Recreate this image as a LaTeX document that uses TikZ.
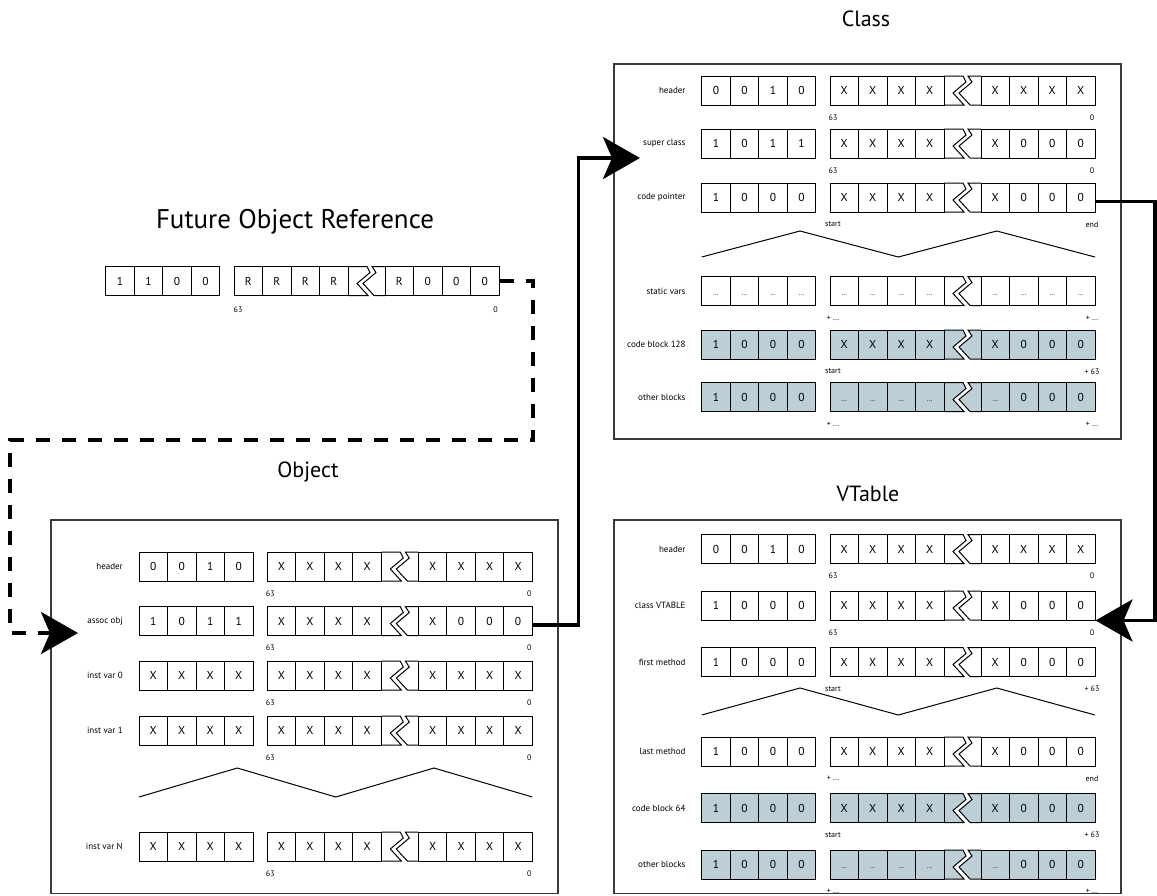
\documentclass[tikz,border=0pt]{standalone}
\usepackage{fontspec}
\setmainfont{PT Sans}
\usetikzlibrary{arrows.meta,calc}
\definecolor{blockfill}{HTML}{BDCFD6}
\definecolor{framegray}{HTML}{3A3A3A}
\newcommand\dd{{\fontsize{7}{7}\selectfont...}}

\tikzset{
  cellline/.style={draw=black,line width=1pt,line join=miter},
  cell/.style={cellline,minimum width=28.5pt,minimum height=29pt,inner sep=0pt,
    text height=8pt,text depth=0pt,font=\fontsize{11.5}{11.5}\selectfont},
  rowlbl/.style={anchor=east,inner sep=0pt,font=\fontsize{9}{9}\selectfont},
  bitlbl/.style={inner sep=0pt,font=\fontsize{8}{8}\selectfont},
  title/.style={inner sep=0pt,font=\fontsize{22}{22}\selectfont},
  panel/.style={draw=framegray,line width=1.2pt},
  zig/.style={draw=black,line width=1pt},
  ptrline/.style={line width=3.6pt,line join=miter,-{Stealth[length=37pt,width=42pt,inset=9pt]}},
  futline/.style={ptrline,dash pattern=on 14pt off 12pt},
}

% one 64-bit word: #1 name, #2 left x, #3 centre y, #4 fill,
% #5 tag nibble, #6 high cells, #7 low cells
\newcommand\bitcells[7]{%
  \begin{scope}[shift={({#2+242.3},{#3-14.5})}]
    \filldraw[cellline,fill=#4] (0,0) -- (19,0) -- (22,6) -- (9,17) -- (20,29) -- (0,29);
    \filldraw[cellline,fill=#4] (37,0) -- (24,0) -- (28,6) -- (15,17) -- (26,29) -- (37,29);
  \end{scope}
  \foreach \v [count=\i] in {#5}
    \node[cell,fill=#4] (#1-a\i) at ({#2+28.5*\i-14.25},#3) {\v};
  \foreach \v [count=\i] in {#6}
    \node[cell,fill=#4] (#1-b\i) at ({#2+128.3+28.5*\i-14.25},#3) {\v};
  \foreach \v [count=\i] in {#7}
    \node[cell,fill=#4] (#1-c\i) at ({#2+279.3+28.5*\i-14.25},#3) {\v};
}
% row caption left of a word
\newcommand\rowtag[4]{\node[rowlbl] (#1-tag) at ({#2-16},#3) {#4};}
% bit / offset markers under a word
\newcommand\bitnums[5]{%
  \node[bitlbl] (#1-hi) at ({#2+131.3},{#3+27}) {#4};
  \node[bitlbl] (#1-lo) at ({#2+390.3},{#3+27}) {#5};
}
% full row: name, left x, centre y, fill, caption, nibble, high, low, markers
\newcommand\wordrow[9]{%
  \bitcells{#1}{#2}{#3}{#4}{#6}{#7}{#8}%
  \rowtag{#1}{#2}{#3}{#5}%
  #9%
}

\begin{document}
\begin{tikzpicture}[x=1pt,y=-1pt]
\useasboundingbox (0,0) rectangle (1157,895);

% titles
\node[title] (t-class) at (866,19) {Class};
\node[title,font=\fontsize{27}{27}\selectfont] (t-fut) at (295,222) {Future Object Reference};
\node[title] (t-obj) at (308,472) {Object};
\node[title] (t-vt) at (868,494) {VTable};

% frames
\draw[panel] (614,64) rectangle (1121,439);
\draw[panel] (51,520) rectangle (558,893.5);
\draw[panel] (614,520) rectangle (1121,893.5);

% future object reference word
\bitcells{fut}{105.7}{281}{white}{1,1,0,0}{R,R,R,R}{R,0,0,0}
\node[bitlbl] (fut-hi) at (238,310) {63};
\node[bitlbl] (fut-lo) at (495.5,310) {0};

% class
\wordrow{ch}{701.7}{90.5}{white}{header}{0,0,1,0}{X,X,X,X}{X,X,X,X}{\bitnums{ch}{701.7}{90.5}{63}{0}}
\wordrow{cs}{701.7}{143.5}{white}{super class}{1,0,1,1}{X,X,X,X}{X,0,0,0}{\bitnums{cs}{701.7}{143.5}{63}{0}}
\wordrow{cp}{701.7}{197.5}{white}{code pointer}{1,0,0,0}{X,X,X,X}{X,0,0,0}{\bitnums{cp}{701.7}{197.5}{start}{end}}
\draw[zig] (701.7,257) -- (800,231) -- (898.3,257) -- (996.7,231) -- (1095,257);
\wordrow{cv}{701.7}{291}{white}{static vars}{\dd,\dd,\dd,\dd}{\dd,\dd,\dd,\dd}{\dd,\dd,\dd,\dd}{\bitnums{cv}{701.7}{291}{+ ...}{+ ...}}
\wordrow{cb}{701.7}{344.5}{blockfill}{code block 128}{1,0,0,0}{X,X,X,X}{X,0,0,0}{\bitnums{cb}{701.7}{344.5}{start}{+ 63}}
\wordrow{co}{701.7}{397}{blockfill}{other blocks}{1,0,0,0}{\dd,\dd,\dd,\dd}{\dd,0,0,0}{\bitnums{co}{701.7}{397}{+ ...}{+ ...}}

% object
\wordrow{oh}{139}{566.5}{white}{header}{0,0,1,0}{X,X,X,X}{X,X,X,X}{\bitnums{oh}{139}{566.5}{63}{0}}
\wordrow{oa}{139}{621}{white}{assoc obj}{1,0,1,1}{X,X,X,X}{X,0,0,0}{\bitnums{oa}{139}{621}{63}{0}}
\wordrow{o0}{139}{675.5}{white}{inst var 0}{X,X,X,X}{X,X,X,X}{X,X,X,X}{\bitnums{o0}{139}{675.5}{63}{0}}
\wordrow{o1}{139}{730.5}{white}{inst var 1}{X,X,X,X}{X,X,X,X}{X,X,X,X}{\bitnums{o1}{139}{730.5}{63}{0}}
\draw[zig] (139,797) -- (237.3,768) -- (335.7,797) -- (434,768) -- (532.3,797);
\wordrow{on}{139}{846.5}{white}{inst var N}{X,X,X,X}{X,X,X,X}{X,X,X,X}{\bitnums{on}{139}{846.5}{63}{0}}

% vtable
\wordrow{vh}{701.7}{549}{white}{header}{0,0,1,0}{X,X,X,X}{X,X,X,X}{\bitnums{vh}{701.7}{549}{63}{0}}
\wordrow{vv}{701.7}{605.5}{white}{class VTABLE}{1,0,0,0}{X,X,X,X}{X,0,0,0}{\bitnums{vv}{701.7}{605.5}{63}{0}}
\wordrow{vf}{701.7}{662}{white}{first method}{1,0,0,0}{X,X,X,X}{X,0,0,0}{\bitnums{vf}{701.7}{662}{start}{+ 63}}
\draw[zig] (701.7,715) -- (800,688) -- (898.3,715) -- (996.7,688) -- (1095,715);
\wordrow{vl}{701.7}{751.5}{white}{last method}{1,0,0,0}{X,X,X,X}{X,0,0,0}{\bitnums{vl}{701.7}{751.5}{+ ...}{end}}
\wordrow{vc}{701.7}{808}{blockfill}{code block 64}{1,0,0,0}{X,X,X,X}{X,0,0,0}{\bitnums{vc}{701.7}{808}{start}{+ 63}}
\wordrow{vo}{701.7}{864.5}{blockfill}{other blocks}{1,0,0,0}{\dd,\dd,\dd,\dd}{\dd,0,0,0}{\bitnums{vo}{701.7}{864.5}{+ ...}{+ ...}}

% pointers
\coordinate (objin) at (78,633);
\coordinate (clsin) at (640,158);
\draw[futline] (fut-c4.east) -- (533,281) -- (533,440) -- (10,440) -- (10,633) -- (objin);
\draw[ptrline] ($(oa-c4.east)+(0,4)$) -- ++(45.7,0) |- (clsin);
\draw[ptrline] ($(cp-c4.east)+(0,4)$) -- (1155,201.5) |- (vv-c4.south east);
\end{tikzpicture}
\end{document}
